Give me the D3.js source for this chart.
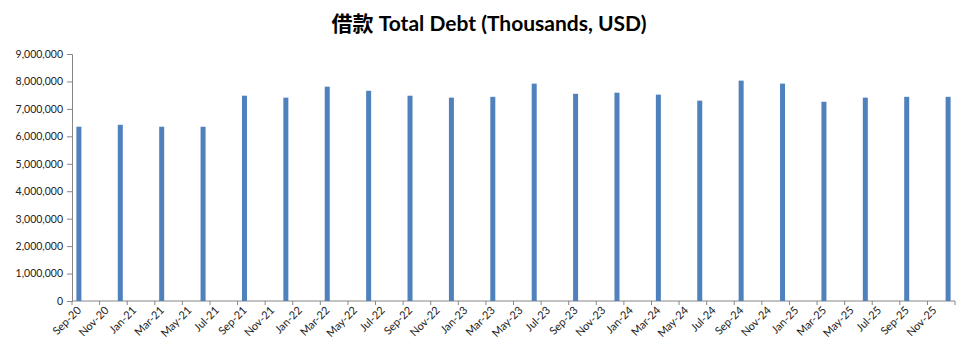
<!DOCTYPE html>
<html>
<head>
<meta charset="utf-8">
<script src="https://cdn.jsdelivr.net/npm/d3@7"></script>
<style>
  body { margin: 0; background: #fff; }
  svg text { font-family: Lato, "Noto Sans CJK SC", sans-serif; fill: #222; }
  .axis path, .axis line { stroke: #868686; }
</style>
</head>
<body>
<div id="chart"></div>
<script>
// quarter-end months of each bar
var quarters = ["2020-09", "2020-12", "2021-03", "2021-06", "2021-09", "2021-12",
  "2022-03", "2022-06", "2022-09", "2022-12", "2023-03", "2023-06",
  "2023-09", "2023-12", "2024-03", "2024-06", "2024-09", "2024-12",
  "2025-03", "2025-06", "2025-09", "2025-12"];

// total debt, thousands USD
var debt = [6350000, 6420000, 6350000, 6350000, 7480000, 7410000,
  7810000, 7660000, 7480000, 7410000, 7440000, 7920000,
  7550000, 7590000, 7520000, 7300000, 8030000, 7920000,
  7260000, 7410000, 7440000, 7440000];

var yTicks = [0, 1000000, 2000000, 3000000, 4000000, 5000000, 6000000, 7000000, 8000000, 9000000];

var titleText = "借款 Total Debt (Thousands, USD)";

(function() {
  let width = 967, height = 355;
  let margin = {top: 54, right: 12, bottom: 54, left: 72};

  let svg = d3.select("#chart").append("svg")
    .attr("width", width)
    .attr("height", height);

  let parse = d3.timeParse("%Y-%m");
  let fmt = d3.timeFormat("%b-%y");

  // one slot per month, Sep-20 .. Dec-25 (Excel date axis)
  let months = d3.timeMonth.range(parse("2020-09"), parse("2026-01")).map(fmt);

  let x = d3.scaleBand()
    .domain(months)
    .range([margin.left, width - margin.right])
    .padding(0);

  let y = d3.scaleLinear()
    .domain([0, 9000000])
    .range([height - margin.bottom, margin.top]);

  // title
  svg.append("text")
    .attr("x", 489)
    .attr("y", 31)
    .attr("text-anchor", "middle")
    .style("font-size", "21px")
    .style("font-weight", "bold")
    .style("fill", "#000")
    .text(titleText);

  // y axis
  let yAxis = svg.append("g")
    .attr("class", "axis")
    .attr("transform", "translate(" + margin.left + ",0)")
    .call(d3.axisLeft(y).tickValues(yTicks).tickSize(5).tickPadding(4).tickFormat(d3.format(",")));
  yAxis.selectAll("text").style("font-size", "10.5px");

  // x axis, ticks every 2 months at slot start
  let tickMonths = months.filter((d, i) => i % 2 === 0);
  let xg = svg.append("g")
    .attr("class", "axis")
    .attr("transform", "translate(0," + y(0) + ")");

  xg.append("line")
    .attr("x1", margin.left)
    .attr("x2", width - margin.right)
    .attr("stroke", "#868686");

  xg.selectAll(".xtick")
    .data(tickMonths.concat(["end"]))
  .enter().append("line")
    .attr("class", "xtick")
    .attr("x1", (d) => d === "end" ? width - margin.right : x(d))
    .attr("x2", (d) => d === "end" ? width - margin.right : x(d))
    .attr("y1", 0)
    .attr("y2", 4)
    .attr("stroke", "#868686");

  xg.selectAll(".xlabel")
    .data(tickMonths)
  .enter().append("text")
    .attr("class", "xlabel")
    .attr("text-anchor", "end")
    .attr("transform", (d) => "translate(" + (x(d) + x.bandwidth() / 2 + 3) + ",10) rotate(-45)")
    .style("font-size", "11px")
    .text((d) => d);

  // bars
  let barW = 5;
  svg.selectAll(".bar")
    .data(quarters)
  .enter().append("rect")
    .attr("class", "bar")
    .attr("x", (d) => x(fmt(parse(d))) + x.bandwidth() / 2 - barW / 2)
    .attr("width", barW)
    .attr("y", (d, i) => y(debt[i]))
    .attr("height", (d, i) => y(0) - y(debt[i]))
    .attr("fill", "#4f81bd");
})();
</script>
</body>
</html>
